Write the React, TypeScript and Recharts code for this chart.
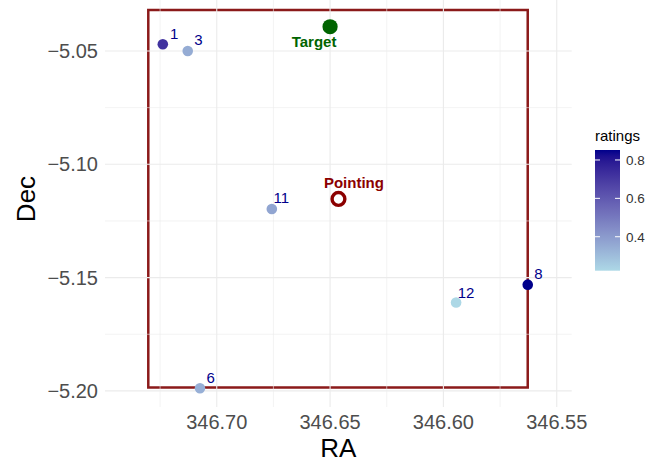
import React from 'react';
import { ScatterChart, Scatter, XAxis, YAxis, ReferenceLine, ReferenceArea } from 'recharts';

// ---------- data ----------
const pointIds = ['1', '3', '6', '8', '11', '12'];
const pointRA = [346.7238, 346.7128, 346.7074, 346.5628, 346.6757, 346.5944];
const pointDec = [-5.047, -5.05, -5.1988, -5.1531, -5.1197, -5.161];
const pointRatings = [0.72, 0.35, 0.34, 0.852, 0.37, 0.223];

const targetRA = [346.65];
const targetDec = [-5.0393];
const pointingRA = [346.6463];
const pointingDec = [-5.1153];

const fieldRA = [346.7302, 346.5628];
const fieldDec = [-5.1985, -5.0319];

const xTicks = [346.7, 346.65, 346.6, 346.55];
const yTicks = [-5.05, -5.1, -5.15, -5.2];
const xMinor = [346.725, 346.675, 346.625, 346.575];
const yMinor = [-5.075, -5.125, -5.175];
const legendTicks = [0.4, 0.6, 0.8];

// ---------- style / layout ----------
const FONT = '"Liberation Sans", Arial, Helvetica, sans-serif';
const W = 672;
const H = 465;
const X_DOMAIN = [346.5434, 346.7493];
const Y_DOMAIN = [-5.2071, -5.0275];
const LOW = '#ADD8E6';
const HIGH = '#00008B';
const labelNudge: Record<string, [number, number]> = {
  '1': [7.3, -5],
  '3': [6.5, -5.7],
  '6': [6.5, -5],
  '8': [6.5, -5.7],
  '11': [1.6, -6.3],
  '12': [1.6, -4.4],
};

// ---------- Lab colour interpolation (like ggplot's gradient) ----------
function hexToRgb(h: string) {
  const n = parseInt(h.slice(1), 16);
  return [(n >> 16) & 255, (n >> 8) & 255, n & 255];
}
function toLin(c: number) {
  c /= 255;
  return c <= 0.04045 ? c / 12.92 : Math.pow((c + 0.055) / 1.055, 2.4);
}
function fromLin(c: number) {
  const v = c <= 0.0031308 ? 12.92 * c : 1.055 * Math.pow(c, 1 / 2.4) - 0.055;
  return Math.max(0, Math.min(255, Math.round(v * 255)));
}
const WP = [0.95047, 1, 1.08883];
function rgbToLab(rgb: number[]) {
  const [r, g, b] = rgb.map(toLin);
  const x = (0.4124 * r + 0.3576 * g + 0.1805 * b) / WP[0];
  const y = (0.2126 * r + 0.7152 * g + 0.0722 * b) / WP[1];
  const z = (0.0193 * r + 0.1192 * g + 0.9505 * b) / WP[2];
  const f = (t: number) => (t > 0.008856 ? Math.cbrt(t) : 7.787 * t + 16 / 116);
  const fx = f(x), fy = f(y), fz = f(z);
  return [116 * fy - 16, 500 * (fx - fy), 200 * (fy - fz)];
}
function labToHex(lab: number[]) {
  const fy = (lab[0] + 16) / 116;
  const fx = fy + lab[1] / 500;
  const fz = fy - lab[2] / 200;
  const fi = (t: number) => (t * t * t > 0.008856 ? t * t * t : (t - 16 / 116) / 7.787);
  const x = fi(fx) * WP[0], y = fi(fy) * WP[1], z = fi(fz) * WP[2];
  const r = 3.2406 * x - 1.5372 * y - 0.4986 * z;
  const g = -0.9689 * x + 1.8758 * y + 0.0415 * z;
  const b = 0.0557 * x - 0.204 * y + 1.057 * z;
  return '#' + [r, g, b].map((c) => fromLin(c).toString(16).padStart(2, '0')).join('');
}
const LAB_LOW = rgbToLab(hexToRgb(LOW));
const LAB_HIGH = rgbToLab(hexToRgb(HIGH));
const RMIN = Math.min(...pointRatings);
const RMAX = Math.max(...pointRatings);
function ratingColor(v: number) {
  const t = (v - RMIN) / (RMAX - RMIN);
  return labToHex(LAB_LOW.map((c, i) => c + (LAB_HIGH[i] - c) * t));
}

// ---------- table ----------
const points = pointIds.map((id, i) => ({ id, ra: pointRA[i], dec: pointDec[i], rating: pointRatings[i] }));
const targets = targetRA.map((ra, i) => ({ ra, dec: targetDec[i] }));
const pointings = pointingRA.map((ra, i) => ({ ra, dec: pointingDec[i] }));

const RatedPoint = (props: any) => {
  const { cx, cy, payload } = props;
  const [dx, dy] = labelNudge[payload.id] || [6, -5];
  return (
    <g>
      <circle cx={cx} cy={cy} r={5.3} fill={ratingColor(payload.rating)} />
      <text x={cx + dx} y={cy + dy} fontSize={15} fill="#00008B" fontFamily={FONT} textAnchor="start">
        {payload.id}
      </text>
    </g>
  );
};

const TargetPoint = (props: any) => {
  const { cx, cy } = props;
  return (
    <g>
      <circle cx={cx} cy={cy} r={7.6} fill="#006400" />
      <text x={cx - 16} y={cy + 20.3} fontSize={15} fontWeight="bold" fill="#006400" fontFamily={FONT} textAnchor="middle">
        Target
      </text>
    </g>
  );
};

const PointingPoint = (props: any) => {
  const { cx, cy } = props;
  return (
    <g>
      <circle cx={cx} cy={cy} r={6.4} fill="#ffffff" stroke="#8B0000" strokeWidth={3.4} />
      <text x={cx + 15.5} y={cy - 11} fontSize={15} fontWeight="bold" fill="#8B0000" fontFamily={FONT} textAnchor="middle">
        Pointing
      </text>
    </g>
  );
};

const fmtY = (v: number) => v.toFixed(2).replace('-', '\u2212');
const fmtX = (v: number) => v.toFixed(2);

// colourbar geometry
const CB_X = 595;
const CB_Y = 150;
const CB_W = 25;
const CB_H = 120.7;
const cbY = (v: number) => CB_Y + ((RMAX - v) / (RMAX - RMIN)) * CB_H;
const gradStops = Array.from({ length: 21 }, (_, i) => i / 20);

export default function App() {
  return (
    <div style={{ position: 'absolute', left: 0, top: 0, width: W, height: H, background: '#ffffff', fontFamily: FONT }}>
      <ScatterChart width={W} height={H} margin={{ top: 0, right: 100.3, bottom: 0, left: 45 }}>
        {xMinor.map((v) => (
          <ReferenceLine key={'xm' + v} x={v} stroke="#ebebeb" strokeWidth={0.6} />
        ))}
        {yMinor.map((v) => (
          <ReferenceLine key={'ym' + v} y={v} stroke="#ebebeb" strokeWidth={0.6} />
        ))}
        {xTicks.map((v) => (
          <ReferenceLine key={'xM' + v} x={v} stroke="#ebebeb" strokeWidth={1.1} />
        ))}
        {yTicks.map((v) => (
          <ReferenceLine key={'yM' + v} y={v} stroke="#ebebeb" strokeWidth={1.1} />
        ))}
        <XAxis
          type="number"
          dataKey="ra"
          domain={X_DOMAIN}
          reversed
          allowDataOverflow
          ticks={xTicks}
          tickFormatter={fmtX}
          tick={{ fontSize: 20, fill: '#4d4d4d', fontFamily: FONT }}
          tickLine={false}
          axisLine={false}
          height={58}
        />
        <YAxis
          type="number"
          dataKey="dec"
          domain={Y_DOMAIN}
          allowDataOverflow
          ticks={yTicks}
          tickFormatter={fmtY}
          tick={{ fontSize: 20, fill: '#4d4d4d', fontFamily: FONT }}
          tickLine={false}
          axisLine={false}
          tickMargin={1}
          width={60}
        />
        <ReferenceArea
          x1={fieldRA[0]}
          x2={fieldRA[1]}
          y1={fieldDec[0]}
          y2={fieldDec[1]}
          fill="none"
          fillOpacity={0}
          stroke="#8B1A1A"
          strokeWidth={2.5}
          ifOverflow="visible"
        />
        <Scatter data={points} dataKey="dec" shape={RatedPoint} isAnimationActive={false} />
        <Scatter data={targets} dataKey="dec" shape={TargetPoint} isAnimationActive={false} />
        <Scatter data={pointings} dataKey="dec" shape={PointingPoint} isAnimationActive={false} />
      </ScatterChart>
      <svg width={W} height={H} style={{ position: 'absolute', left: 0, top: 0, pointerEvents: 'none' }}>
        <defs>
          <linearGradient id="cbgrad" x1="0" y1="1" x2="0" y2="0">
            {gradStops.map((t) => (
              <stop key={t} offset={t} stopColor={ratingColor(RMIN + t * (RMAX - RMIN))} />
            ))}
          </linearGradient>
        </defs>
        <text x={338.3} y={457} fontSize={26} fill="#000" textAnchor="middle" fontFamily={FONT}>
          RA
        </text>
        <text
          x={35}
          y={199}
          fontSize={26}
          fill="#000"
          textAnchor="middle"
          fontFamily={FONT}
          transform="rotate(-90 35 199)"
        >
          Dec
        </text>
        <text x={CB_X} y={141} fontSize={15} fill="#000" fontFamily={FONT}>
          ratings
        </text>
        <rect x={CB_X} y={CB_Y} width={CB_W} height={CB_H} fill="url(#cbgrad)" />
        {legendTicks.map((v) => (
          <g key={v}>
            <line x1={CB_X} x2={CB_X + 5} y1={cbY(v)} y2={cbY(v)} stroke="#ffffff" strokeWidth={1} />
            <line x1={CB_X + CB_W - 5} x2={CB_X + CB_W} y1={cbY(v)} y2={cbY(v)} stroke="#ffffff" strokeWidth={1} />
            <text x={CB_X + CB_W + 6} y={cbY(v)} dy="0.36em" fontSize={13.5} fill="#333333" fontFamily={FONT}>
              {v.toFixed(1)}
            </text>
          </g>
        ))}
      </svg>
    </div>
  );
}
